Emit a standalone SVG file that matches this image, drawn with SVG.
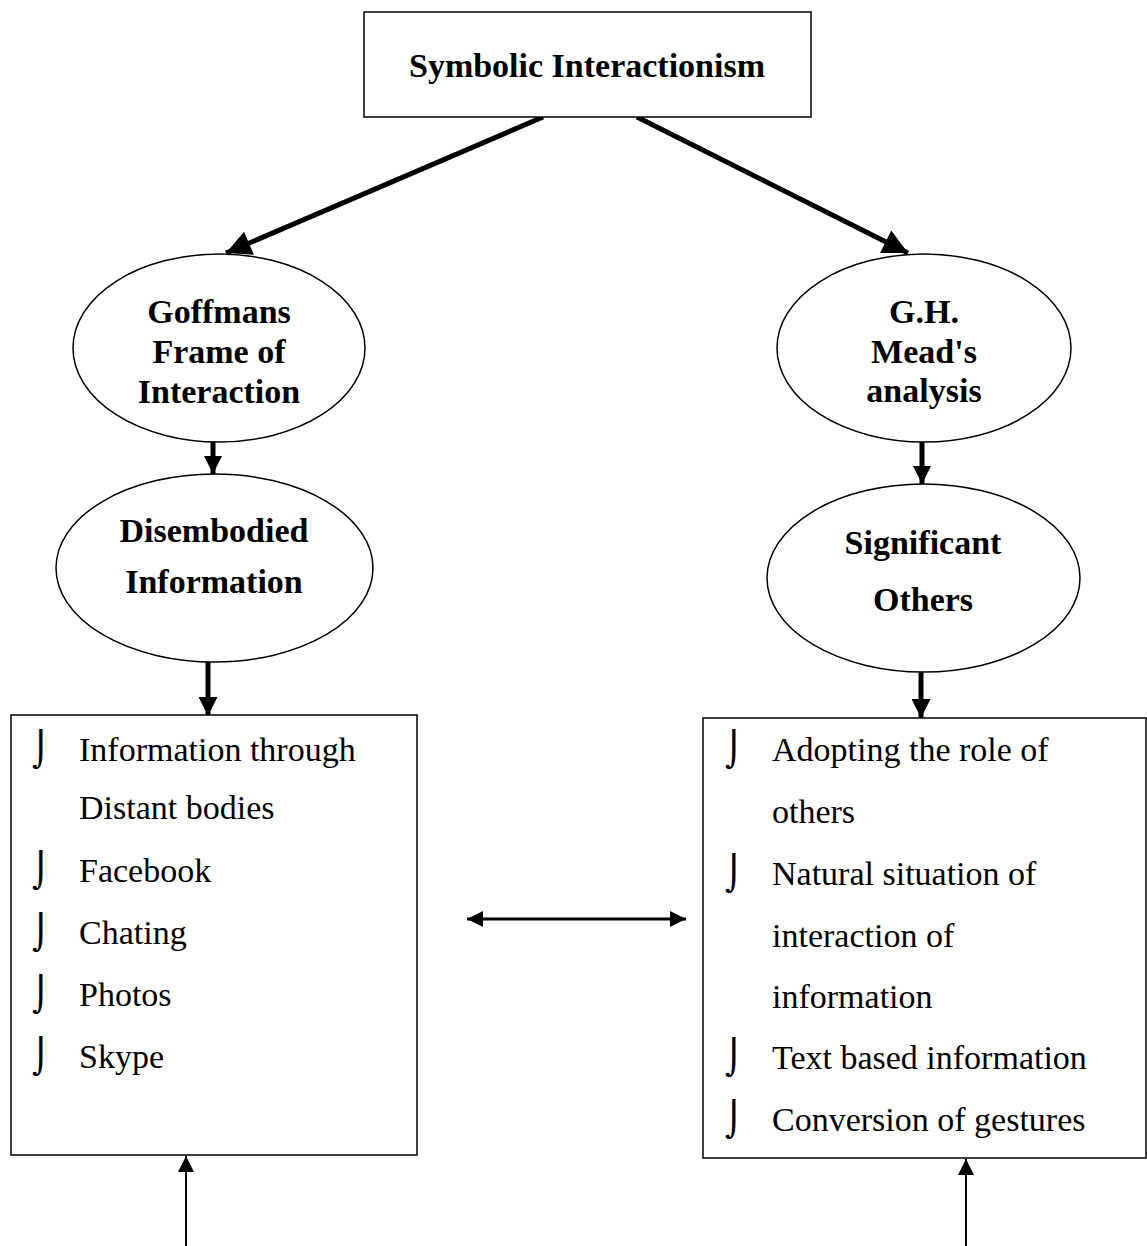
<svg xmlns="http://www.w3.org/2000/svg" width="1147" height="1246" viewBox="0 0 1147 1246">
<style>
.box{fill:#fff;stroke:#000;stroke-width:1.5}
.ell{fill:#fff;stroke:#000;stroke-width:1.5}
.b{font-family:"Liberation Serif","Times New Roman",serif;font-weight:bold;font-size:34px;text-anchor:middle;fill:#000}
.r{font-family:"Liberation Serif","Times New Roman",serif;font-size:34px;fill:#000}
.bl{font-family:"DejaVu Sans",sans-serif;font-size:34px;fill:#000}
.thick{stroke:#000;stroke-width:5;fill:none}
.mid{stroke:#000;stroke-width:3;fill:none}
.thin{stroke:#000;stroke-width:2;fill:none}
</style>
<defs>
<marker id="ah" viewBox="0 0 10 10" refX="10" refY="5" markerUnits="userSpaceOnUse" markerWidth="30" markerHeight="25" orient="auto-start-reverse"><path d="M0,0 L10,5 L0,10 z" fill="#000"/></marker>
<marker id="ahs" viewBox="0 0 10 10" refX="10" refY="5" markerUnits="userSpaceOnUse" markerWidth="18" markerHeight="18" orient="auto-start-reverse"><path d="M0,0 L10,5 L0,10 z" fill="#000"/></marker>
<marker id="ahd" viewBox="0 0 10 10" refX="10" refY="5" markerUnits="userSpaceOnUse" markerWidth="23" markerHeight="19" orient="auto-start-reverse"><path d="M0,0 L10,5 L0,10 z" fill="#000"/></marker>
<marker id="aht" viewBox="0 0 10 10" refX="10" refY="5" markerUnits="userSpaceOnUse" markerWidth="16" markerHeight="16" orient="auto-start-reverse"><path d="M0,0 L10,5 L0,10 z" fill="#000"/></marker>
</defs>

<g id="connectors">
<line class="thick" x1="543" y1="117" x2="226" y2="253" marker-end="url(#ah)"/>
<line class="thick" x1="637" y1="117" x2="908" y2="253" marker-end="url(#ah)"/>
<line class="thick" x1="213" y1="442" x2="213" y2="474" marker-end="url(#ahs)"/>
<line class="thick" x1="922" y1="442" x2="922" y2="484" marker-end="url(#ahs)"/>
<line class="thick" x1="208" y1="662" x2="208" y2="716" marker-end="url(#ahd)"/>
<line class="thick" x1="921" y1="672" x2="921" y2="718" marker-end="url(#ahd)"/>
<line class="mid" x1="467" y1="919" x2="686" y2="919" marker-start="url(#aht)" marker-end="url(#aht)"/>
<line class="thin" x1="186" y1="1246" x2="186" y2="1156" marker-end="url(#aht)"/>
<line class="thin" x1="966" y1="1246" x2="966" y2="1159" marker-end="url(#aht)"/>
</g>

<g id="symbolic">
<rect class="box" x="364" y="12" width="447" height="105"/>
<text class="b" x="587" y="77">Symbolic Interactionism</text>
</g>

<g id="goffman">
<ellipse class="ell" cx="219" cy="348" rx="146" ry="94"/>
<text class="b" x="219" y="323">Goffmans</text>
<text class="b" x="219" y="363">Frame of</text>
<text class="b" x="219" y="403">Interaction</text>
</g>

<g id="mead">
<ellipse class="ell" cx="924" cy="348" rx="147" ry="94"/>
<text class="b" x="924" y="323">G.H.</text>
<text class="b" x="924" y="363">Mead's</text>
<text class="b" x="924" y="402">analysis</text>
</g>

<g id="disembodied">
<ellipse class="ell" cx="214.5" cy="568" rx="158.5" ry="94"/>
<text class="b" x="214" y="542">Disembodied</text>
<text class="b" x="214" y="593">Information</text>
</g>

<g id="significant">
<ellipse class="ell" cx="923.5" cy="578" rx="156.5" ry="94"/>
<text class="b" x="923" y="554">Significant</text>
<text class="b" x="923" y="611">Others</text>
</g>

<g id="left-list">
<rect class="box" x="11" y="715" width="406" height="440"/>
<text class="bl" x="32" y="761">⌡</text>
<text class="r" x="79" y="761">Information through</text>
<text class="r" x="79" y="819">Distant bodies</text>
<text class="bl" x="32" y="882">⌡</text>
<text class="r" x="79" y="882">Facebook</text>
<text class="bl" x="32" y="944">⌡</text>
<text class="r" x="79" y="944">Chating</text>
<text class="bl" x="32" y="1006">⌡</text>
<text class="r" x="79" y="1006">Photos</text>
<text class="bl" x="32" y="1068">⌡</text>
<text class="r" x="79" y="1068">Skype</text>
</g>

<g id="right-list">
<rect class="box" x="703" y="718" width="443" height="440"/>
<text class="bl" x="725" y="761">⌡</text>
<text class="r" x="772" y="761">Adopting the role of</text>
<text class="r" x="772" y="823">others</text>
<text class="bl" x="725" y="885">⌡</text>
<text class="r" x="772" y="885">Natural situation of</text>
<text class="r" x="772" y="947">interaction of</text>
<text class="r" x="772" y="1008">information</text>
<text class="bl" x="725" y="1069">⌡</text>
<text class="r" x="772" y="1069">Text based information</text>
<text class="bl" x="725" y="1131">⌡</text>
<text class="r" x="772" y="1131">Conversion of gestures</text>
</g>
</svg>
